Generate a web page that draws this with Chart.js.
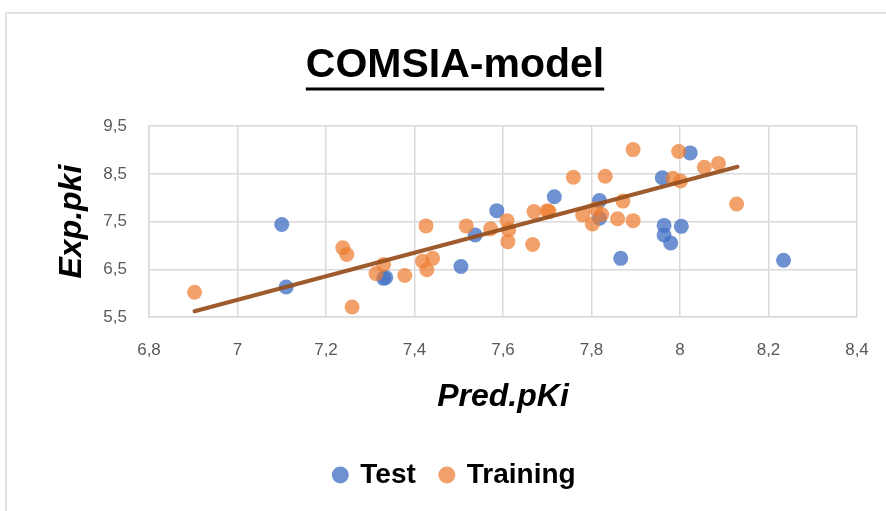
<!DOCTYPE html>
<html>
<head>
<meta charset="utf-8">
<script src="https://cdn.jsdelivr.net/npm/chart.js@4.4.0/dist/chart.umd.min.js"></script>
<style>
  html, body { margin: 0; padding: 0; background: #fff; }
  #wrap { width: 886px; height: 511px; }
</style>
</head>
<body>
<div id="wrap"><canvas id="chart_comsia" width="886" height="511"></canvas></div>
<script>
/* 데이터 */
// Test set : 예측값 / 실험값
const test_pred = [7.10, 7.11, 7.33, 7.335, 7.505, 7.537, 7.586, 7.716, 7.818, 7.818, 7.866, 7.960, 8.023, 7.964, 7.964, 7.979, 8.003, 8.234];
const test_exp  = [7.44, 6.13, 6.31, 6.33,  6.56,  7.22,  7.73,  8.02,  7.94,  7.57,  6.73,  8.42,  8.94,  7.42,  7.22,  7.05,  7.40,  6.69];

// Training set
const train_pred = [6.903, 7.238, 7.247, 7.259, 7.313, 7.330, 7.378, 7.426, 7.418, 7.428, 7.441, 7.517, 7.572, 7.609, 7.613, 7.611, 7.667, 7.670, 7.704, 7.700,
                    7.759, 7.780, 7.802, 7.809, 7.823, 7.831, 7.859, 7.871, 7.894, 7.894, 7.984, 7.997, 8.001, 8.055, 8.087, 8.128];
const train_exp  = [6.02,  6.95,  6.81,  5.71,  6.41,  6.60,  6.37,  7.41,  6.67,  6.49,  6.73,  7.41,  7.35,  7.52,  7.33,  7.08,  7.02,  7.71,  7.71,  7.73,
                    8.43,  7.64,  7.45,  7.77,  7.65,  8.45,  7.56,  7.93,  9.01,  7.52,  8.41,  8.97,  8.35,  8.64,  8.72,  7.87];

// 추세선 (시작점, 끝점)
const trend_pred = [6.903, 8.130];
const trend_exp  = [5.62, 8.65];

// 축 눈금
const x_ticks = { min: 6.8, max: 8.4, step: 0.2 };
const y_ticks = { min: 5.5, max: 9.5, step: 1 };

function to_points(xs, ys) {
  return xs.map((x, i) => ({ x: x, y: ys[i] }));
}

// 소수점 -> 쉼표
function comma(v) {
  return String(Math.round(v * 10) / 10).replace('.', ',');
}

const FONT = "'Liberation Sans', Arial, sans-serif";
const TICK_FONT = { family: FONT, size: 17 };
const AXIS_TITLE_FONT = { family: FONT, size: 32, weight: 'bold', style: 'italic' };
const GRID_COLOR = '#d9d9d9';

/* 테두리 + 배경 */
const frame_plugin = {
  id: 'frame',
  beforeDraw(chart) {
    const c = chart.ctx;
    c.save();
    c.fillStyle = '#fff';
    c.fillRect(0, 0, chart.width, chart.height);
    c.strokeStyle = '#d9d9d9';
    c.lineWidth = 1.5;
    c.beginPath();
    c.moveTo(6, chart.height);
    c.lineTo(6, 13);
    c.lineTo(chart.width, 13);
    c.stroke();
    c.restore();
  }
};

/* 제목 밑줄 */
const underline_plugin = {
  id: 'title_underline',
  afterDraw(chart) {
    const opt = chart.options.plugins.title;
    const tb = chart.titleBlock;
    if (!tb) return;
    const c = chart.ctx;
    const font = Chart.helpers.toFont(opt.font);
    c.save();
    c.font = font.string;
    const w = c.measureText(opt.text).width;
    const cx = (tb.left + tb.right) / 2;
    const cy = tb.top + opt.padding.top + font.lineHeight / 2;
    const y = cy + font.size * 0.57;
    c.strokeStyle = '#000';
    c.lineWidth = 3;
    c.beginPath();
    c.moveTo(cx - w / 2, y);
    c.lineTo(cx + w / 2, y);
    c.stroke();
    c.restore();
  }
};

const ctx = document.getElementById('chart_comsia');

var config = {
  type: 'scatter',
  data: {
    datasets: [{
      label: 'Test',
      data: to_points(test_pred, test_exp),
      backgroundColor: 'rgba(68, 114, 196, 0.78)',
      borderWidth: 0,
      pointRadius: 7.5,
      order: 3
    }, {
      label: 'Training',
      data: to_points(train_pred, train_exp),
      backgroundColor: 'rgba(237, 125, 49, 0.72)',
      borderWidth: 0,
      pointRadius: 7.5,
      order: 2
    }, {
      label: 'trend',
      type: 'line',
      data: to_points(trend_pred, trend_exp),
      borderColor: 'rgba(150, 78, 28, 0.92)',
      borderWidth: 4,
      borderCapStyle: 'round',
      pointRadius: 0,
      fill: false,
      order: 1
    }]
  },
  options: {
    responsive: false,
    animation: false,
    layout: {
      padding: { left: 53, right: 29, top: 0, bottom: 12 }
    },
    plugins: {
      title: {
        display: true,
        text: 'COMSIA-model',
        color: '#000',
        font: { family: FONT, size: 41, weight: 'bold' },
        padding: { top: 41, bottom: 36 }
      },
      legend: {
        position: 'bottom',
        labels: {
          usePointStyle: true,
          pointStyle: 'circle',
          boxWidth: 12,
          boxHeight: 12,
          padding: 25,
          color: '#000',
          font: { family: FONT, size: 28, weight: 'bold' },
          filter: (item) => item.text !== 'trend',
          sort: (a, b) => a.datasetIndex - b.datasetIndex
        }
      },
      tooltip: { enabled: false }
    },
    scales: {
      x: {
        type: 'linear',
        min: x_ticks.min,
        max: x_ticks.max,
        ticks: {
          stepSize: x_ticks.step,
          color: '#595959',
          font: TICK_FONT,
          padding: 23,
          callback: (v) => comma(v)
        },
        grid: { color: GRID_COLOR, lineWidth: 1.5, drawTicks: false },
        border: { color: GRID_COLOR, width: 1.5 },
        title: {
          display: true,
          text: 'Pred.pKi',
          color: '#000',
          font: AXIS_TITLE_FONT,
          padding: { top: 0, bottom: 20 }
        },
        afterFit: (scale) => {
          scale.height = 119;
          scale.paddingLeft = 0;
          scale.paddingRight = 0;
        }
      },
      y: {
        type: 'linear',
        min: y_ticks.min,
        max: y_ticks.max,
        ticks: {
          stepSize: y_ticks.step,
          color: '#595959',
          font: TICK_FONT,
          padding: 22,
          callback: (v) => comma(v)
        },
        grid: { color: GRID_COLOR, lineWidth: 1.5, drawTicks: false },
        border: { color: GRID_COLOR, width: 1.5 },
        title: {
          display: true,
          text: 'Exp.pki',
          color: '#000',
          font: AXIS_TITLE_FONT,
          padding: { top: 0, bottom: 0 }
        },
        afterFit: (scale) => { scale.width = 96; }
      }
    }
  },
  plugins: [frame_plugin, underline_plugin]
};

var chart_comsia = new Chart(ctx, config);
</script>
</body>
</html>
